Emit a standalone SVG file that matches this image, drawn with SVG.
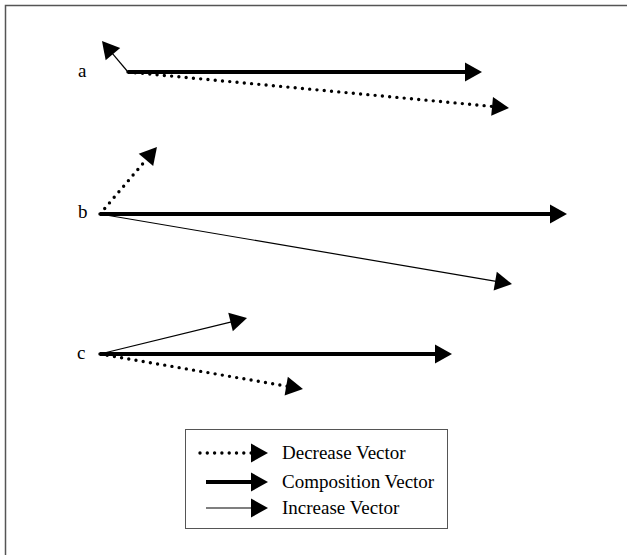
<svg xmlns="http://www.w3.org/2000/svg" width="627" height="555" viewBox="0 0 627 555">
<style>
.lbl{font-family:"Liberation Serif","Times New Roman",serif;font-size:19px;fill:#000}
.comp{stroke:#000;stroke-width:4;fill:none;marker-end:url(#ah)}
.inc{stroke:#000;stroke-width:1.2;fill:none;marker-end:url(#ah)}
.dec{stroke:#000;stroke-width:3.4;fill:none;stroke-linecap:round;stroke-dasharray:0 7.3;marker-end:url(#ah)}
</style>
<defs>
<marker id="ah" markerUnits="userSpaceOnUse" markerWidth="18" markerHeight="20" refX="1" refY="9.5" orient="auto" overflow="visible">
<path d="M0,0 L17,9.5 L0,19 z" fill="#000"/>
</marker>
</defs>
<rect width="627" height="555" fill="#fff"/>
<path d="M5.5,560 L5.5,5.5 L640,5.5" fill="none" stroke="#555" stroke-width="1.5"/>
<g id="labels">
<text class="lbl" x="78" y="77">a</text>
<text class="lbl" x="78" y="218">b</text>
<text class="lbl" x="77" y="359">c</text>
</g>
<g id="connectors">
<line class="comp" x1="128" y1="72" x2="466" y2="72"/>
<line class="dec" x1="128" y1="72" x2="493.1" y2="106.5"/>
<line class="inc" x1="128" y1="72" x2="112.3" y2="53.3"/>
<line class="comp" x1="100" y1="214" x2="551" y2="214"/>
<line class="dec" x1="100" y1="214" x2="146.6" y2="159.2"/>
<line class="inc" x1="100" y1="214" x2="496.2" y2="281.3"/>
<line class="comp" x1="100" y1="354" x2="436" y2="354"/>
<line class="inc" x1="100" y1="354" x2="231.5" y2="321.8"/>
<line class="dec" x1="100" y1="354" x2="287.2" y2="386.3"/>
</g>
<g id="legend">
<rect x="185.5" y="429.5" width="262" height="99" fill="#fff" stroke="#555" stroke-width="1"/>
<line class="dec" x1="200" y1="453" x2="252" y2="453"/>
<line class="comp" x1="206" y1="482" x2="252" y2="482"/>
<line class="inc" x1="206" y1="508" x2="252" y2="508"/>
<text class="lbl" x="282" y="459">Decrease Vector</text>
<text class="lbl" x="282" y="488">Composition Vector</text>
<text class="lbl" x="282" y="514">Increase Vector</text>
</g>
</svg>
